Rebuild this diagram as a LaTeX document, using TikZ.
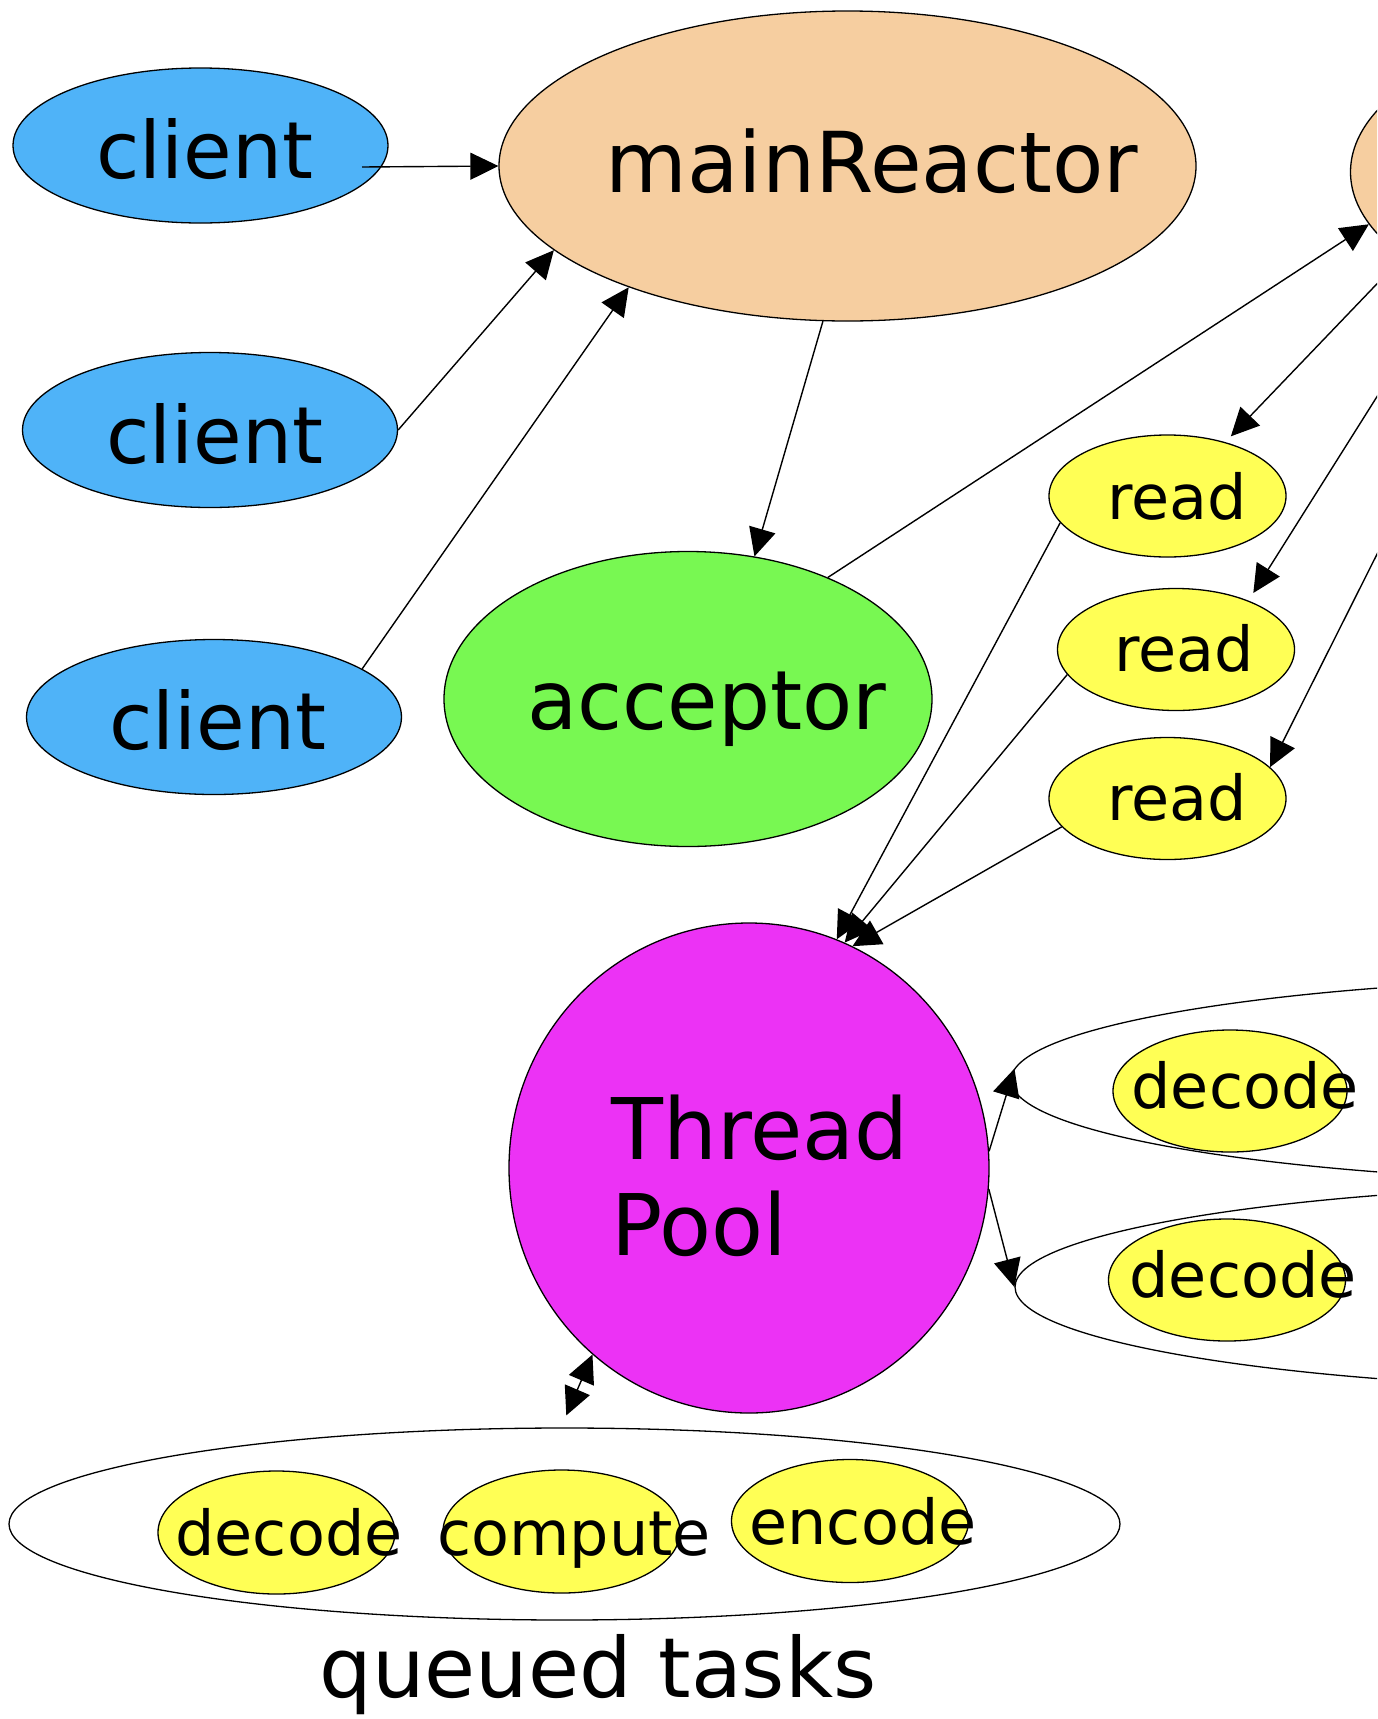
\documentclass[tikz,border=0pt]{standalone}
\usepackage{fontspec}
\setmainfont{DejaVu Sans}
\usetikzlibrary{shapes.geometric,arrows.meta}

\definecolor{clientblue}{RGB}{79,179,248}
\definecolor{reactorpeach}{RGB}{246,206,160}
\definecolor{acceptgreen}{RGB}{120,248,82}
\definecolor{poolmagenta}{RGB}{236,50,245}
\definecolor{taskyellow}{RGB}{255,255,85}

\begin{document}
\begin{tikzpicture}[x=1pt,y=-1pt,
  blob/.style={ellipse, draw=black, line width=1.3pt, inner sep=0pt},
  clientblob/.style={blob, fill=clientblue, minimum width=375pt, minimum height=155pt},
  reactorblob/.style={blob, fill=reactorpeach, minimum width=697pt, minimum height=310pt},
  readblob/.style={blob, fill=taskyellow, minimum width=237pt, minimum height=122pt},
  queueblob/.style={blob, fill=white, minimum width=1316pt, minimum height=205pt},
  tip/.tip={Triangle[length=28pt,width=27pt]},
  conn/.style={line width=1.4pt, -tip},
  bigtext/.style={anchor=base, inner sep=0pt, font=\fontsize{82}{96}\selectfont},
  smalltext/.style={anchor=base, inner sep=0pt, font=\fontsize{62}{72}\selectfont}
]
\useasboundingbox (0,0) rectangle (1377,1719);
\clip (0,0) rectangle (1377,1719);

% clients and reactors
\node[clientblob] (client1) at (200.5,145.5) {};
\node[clientblob] (client2) at (210,430) {};
\node[clientblob] (client3) at (214,717) {};
\node[reactorblob] (mainReactor) at (847.5,166) {};
\node[reactorblob, minimum height=320pt] (subReactor) at (1699,172) {};
\node[blob, fill=acceptgreen, minimum width=488pt, minimum height=295pt] (acceptor) at (688,699) {};

% read handlers
\node[readblob] (read1) at (1167.5,496) {};
\node[readblob] (read2) at (1176,649.5) {};
\node[readblob] (read3) at (1167.5,798.5) {};

% worker pool and its queues
\node[blob, fill=poolmagenta, minimum width=480pt, minimum height=490pt] (pool) at (749,1168) {};
\node[queueblob] (queue1) at (1669,1080) {};
\node[queueblob] (queue2) at (1673,1287) {};
\node[readblob, minimum width=234pt] (qdecode1) at (1230,1091) {};
\node[readblob] (qdecode2) at (1227,1280) {};
\node[blob, fill=white, minimum width=1111pt, minimum height=192pt] (tasks) at (564.5,1524) {};
\node[readblob, minimum height=123pt] (tdecode) at (276.5,1532.5) {};
\node[readblob, minimum height=123pt] (tcompute) at (561.5,1531.5) {};
\node[readblob, minimum height=123pt] (tencode) at (850,1521) {};

% connectors
\coordinate (c1tail) at (362,167);
\draw[conn] (c1tail) -- (mainReactor.west);
\draw[conn] (client2.east) -- (mainReactor.196);
\draw[conn] (client3.18) -- (mainReactor.209);
\draw[conn] (mainReactor.261) -- (acceptor.65);
\draw[conn] (acceptor.41) -- (subReactor.189);
\draw[conn, shorten >=8pt] (subReactor.196.4) -- (read1.43);
\draw[conn, shorten >=9pt] (subReactor.204.5) -- (read2.34);
\draw[conn] (subReactor.214) -- (read3.17);
\draw[conn] (read1.194) -- (pool.69);
\draw[conn] (read2.193) -- (pool.67);
\draw[conn] (read3.195) -- (pool.65);
\draw[conn] (pool.4) -- (queue1.179.5);
\draw[conn] (pool.-5) -- (queue2.180.5);
\draw[line width=1.4pt, tip-tip, shorten >=13pt] (pool.230) -- (tasks.92);

% labels
\node[bigtext, font=\fontsize{79}{90}\selectfont] (client1text) at (205,178) {client};
\node[bigtext, font=\fontsize{79}{90}\selectfont] (client2text) at (215,463) {client};
\node[bigtext, font=\fontsize{79}{90}\selectfont] (client3text) at (218,749) {client};
\node[bigtext, font=\fontsize{84}{96}\selectfont] (mainReactortext) at (872,192) {mainReactor};
\node[bigtext] (acceptortext) at (707,729) {acceptor};
\node[smalltext] (read1text) at (1177,519) {read};
\node[smalltext] (read2text) at (1184,671) {read};
\node[smalltext] (read3text) at (1177,820) {read};
\node[bigtext, anchor=base west, font=\fontsize{85}{96}\selectfont] (pooltext1) at (611,1159) {Thread};
\node[bigtext, anchor=base west, font=\fontsize{85}{96}\selectfont] (pooltext2) at (611,1255) {Pool};
\node[smalltext] (qdecode1text) at (1245,1108) {decode};
\node[smalltext] (qdecode2text) at (1243,1297) {decode};
\node[smalltext] (tdecodetext) at (289,1555) {decode};
\node[smalltext] (tcomputetext) at (574,1555) {compute};
\node[smalltext] (tencodetext) at (863,1544) {encode};
\node[bigtext, font=\fontsize{83}{96}\selectfont] (taskslabel) at (598,1697) {queued tasks};
\end{tikzpicture}
\end{document}
